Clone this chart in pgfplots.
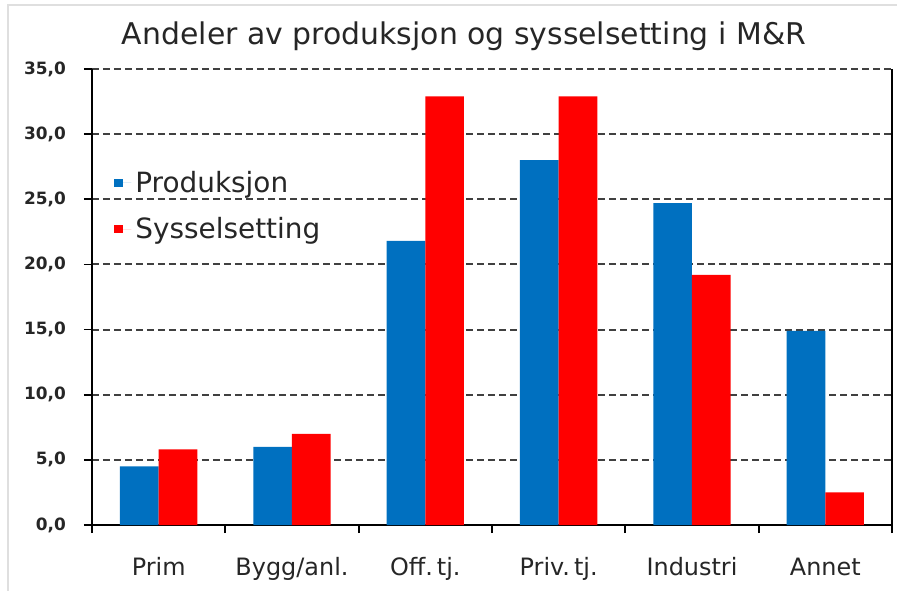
\documentclass[border=0pt]{standalone}
\usepackage{pgfplots}
\pgfplotsset{compat=1.18}
\usepackage{fontspec}
\setmainfont{DejaVu Sans}
\definecolor{myblue}{HTML}{0070C0}
\definecolor{myred}{HTML}{FF0000}
\definecolor{gridc}{HTML}{404040}
\begin{document}
\begin{tikzpicture}
\useasboundingbox (-46bp,-33bp) rectangle (402.5bp,262.5bp);
\draw[gray!25, line width=1bp] (-42bp,-33bp) -- (-42bp,260bp) -- (402.5bp,260bp);
\begin{axis}[
  at={(0,0)}, anchor=south west,
  scale only axis,
  width=400bp, height=228bp,
  xmin=-0.5, xmax=5.5, ymin=0, ymax=35,
  ybar=0pt, bar width=0.29,
  axis x line*=bottom,
  axis line style={black, line width=0.9bp},
  xtick={-0.5,0.5,1.5,2.5,3.5,4.5,5.5},
  xticklabels={},
  extra x ticks={0,1,2,3,4,5},
  extra x tick labels={Prim,Bygg/anl.,Off.\,tj.,Priv.\,tj.,Industri,Annet},
  extra x tick style={tick style={draw=none}, grid=none,
    xticklabel style={font=\fontsize{12}{13}\selectfont, text=black!85, anchor=base, yshift=-21bp}},
  major tick length=4bp,
  tick align=outside,
  tick style={black, line width=0.9bp},
  ytick={0,5,...,35},
  ytick pos=left,
  ymajorgrids,
  major grid style={gridc, line width=1bp, dash pattern=on 3.5bp off 2bp},
  yticklabel style={font=\fontsize{8.5}{10}\selectfont\bfseries, text=black!85, xshift=-5.5bp},
  /pgf/number format/.cd, use comma, fixed, fixed zerofill, precision=1, assume math mode=true,
  /pgfplots/.cd,
  legend style={draw=none, fill=none, at={(0.02,0.795)}, anchor=north west,
    font=\fontsize{14}{15}\selectfont, row sep=7bp, text=black!85},
  legend cell align=left,
  legend image code/.code={\fill[#1, draw=none] (0bp,-2.2bp) rectangle (4.4bp,2.2bp); \path (0bp,0bp) -- (8.5bp,0bp);},
]
\addplot[fill=myblue, draw=none] coordinates {(0,4.5) (1,6.0) (2,21.8) (3,28.0) (4,24.7) (5,14.9)};
\addplot[fill=myred, draw=none] coordinates {(0,5.8) (1,7.0) (2,32.9) (3,32.9) (4,19.2) (5,2.5)};
\legend{Produksjon, Sysselsetting}
\end{axis}
\node[anchor=base, font=\fontsize{15}{18}\selectfont, text=black!85] at (186bp,240bp) {Andeler av produksjon og sysselsetting i M\&R};
\end{tikzpicture}
\end{document}
